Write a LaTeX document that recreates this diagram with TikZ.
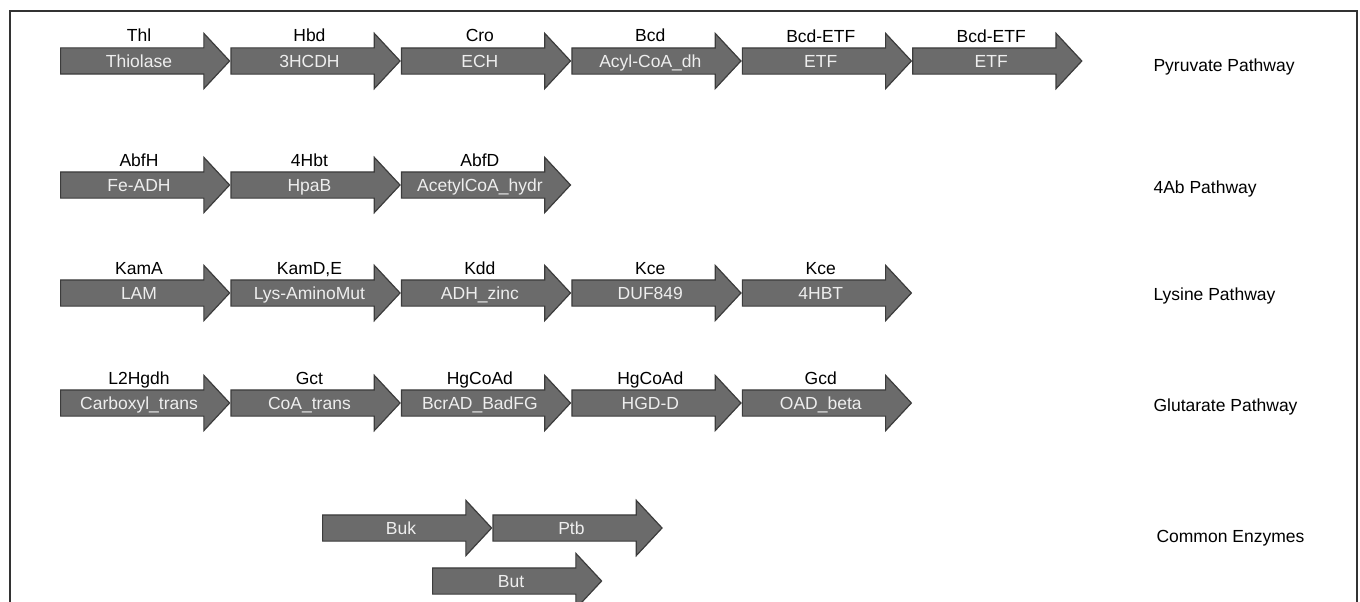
\documentclass[tikz,border=0pt]{standalone}
\usepackage{fontspec}
\setmainfont{Liberation Sans}
\usetikzlibrary{shapes.arrows,positioning}
\definecolor{genefill}{HTML}{6B6B6B}
\definecolor{geneline}{HTML}{3C3C3C}
\definecolor{genetext}{HTML}{EEEEEE}
\definecolor{framegray}{HTML}{333333}

\begin{document}
\begin{tikzpicture}[x=1pt,y=-1pt,
		font=\fontsize{17.5}{20}\selectfont,
		gene/.style={single arrow, draw=geneline, fill=genefill, line width=1.2pt,
			minimum height=169pt, single arrow head extend=14.5pt, single arrow tip angle=94,
			inner xsep=2pt, inner ysep=4.5pt, text height=14pt, text depth=2pt, text=genetext},
		enz/.style={anchor=base, yshift=19pt},
		pathname/.style={anchor=base west}]
	\useasboundingbox (0,0) rectangle (1360,602);
	\draw[framegray, line width=1.5pt] (10,602) -- (10,11) -- (1357,11) -- (1357,602);

	% pyruvate
	\node[gene, anchor=tail] (thl) at (60,61) {Thiolase};
	\node[gene, right=0pt of thl] (hbd) {3HCDH};
	\node[gene, right=0pt of hbd] (cro) {ECH};
	\node[gene, right=0pt of cro] (bcd) {Acyl-CoA\_dh};
	\node[gene, right=0pt of bcd] (etfa) {ETF};
	\node[gene, right=0pt of etfa] (etfb) {ETF};
	\node[enz] (thlL) at (thl.center) {Thl};
	\node[enz] (hbdL) at (hbd.center) {Hbd};
	\node[enz] (croL) at (cro.center) {Cro};
	\node[enz] (bcdL) at (bcd.center) {Bcd};
	\node[enz] (etfaL) at (etfa.center) {Bcd-ETF};
	\node[enz] (etfbL) at (etfb.center) {Bcd-ETF};
	\node[pathname] (pyr) at (1150,72) {Pyruvate Pathway};

	% 4-aminobutyrate
	\node[gene, anchor=tail] (abfh) at (60,185) {Fe-ADH};
	\node[gene, right=0pt of abfh] (hbt) {HpaB};
	\node[gene, right=0pt of hbt] (abfd) {AcetylCoA\_hydr};
	\node[enz] (abfhL) at (abfh.center) {AbfH};
	\node[enz] (hbtL) at (hbt.center) {4Hbt};
	\node[enz] (abfdL) at (abfd.center) {AbfD};
	\node[pathname] (fab) at (1150,193) {4Ab Pathway};

	% lysine
	\node[gene, anchor=tail] (kama) at (60,293) {LAM};
	\node[gene, right=0pt of kama] (kamde) {Lys-AminoMut};
	\node[gene, right=0pt of kamde] (kdd) {ADH\_zinc};
	\node[gene, right=0pt of kdd] (kcea) {DUF849};
	\node[gene, right=0pt of kcea] (kceb) {4HBT};
	\node[enz] (kamaL) at (kama.center) {KamA};
	\node[enz] (kamdeL) at (kamde.center) {KamD,E};
	\node[enz] (kddL) at (kdd.center) {Kdd};
	\node[enz] (kceaL) at (kcea.center) {Kce};
	\node[enz] (kcebL) at (kceb.center) {Kce};
	\node[pathname] (lys) at (1150,300) {Lysine Pathway};

	% glutarate
	\node[gene, anchor=tail] (lhg) at (60,403) {Carboxyl\_trans};
	\node[gene, right=0pt of lhg] (gct) {CoA\_trans};
	\node[gene, right=0pt of gct] (hgca) {BcrAD\_BadFG};
	\node[gene, right=0pt of hgca] (hgcb) {HGD-D};
	\node[gene, right=0pt of hgcb] (gcd) {OAD\_beta};
	\node[enz] (lhgL) at (lhg.center) {L2Hgdh};
	\node[enz] (gctL) at (gct.center) {Gct};
	\node[enz] (hgcaL) at (hgca.center) {HgCoAd};
	\node[enz] (hgcbL) at (hgcb.center) {HgCoAd};
	\node[enz] (gcdL) at (gcd.center) {Gcd};
	\node[pathname] (glu) at (1150,411) {Glutarate Pathway};

	% common
	\node[gene, anchor=tail] (buk) at (322,528) {Buk};
	\node[gene, right=0pt of buk] (ptb) {Ptb};
	\node[gene, anchor=tail] (but) at (432,581) {But};
	\node[pathname] (com) at (1153,542) {Common Enzymes};
\end{tikzpicture}
\end{document}
